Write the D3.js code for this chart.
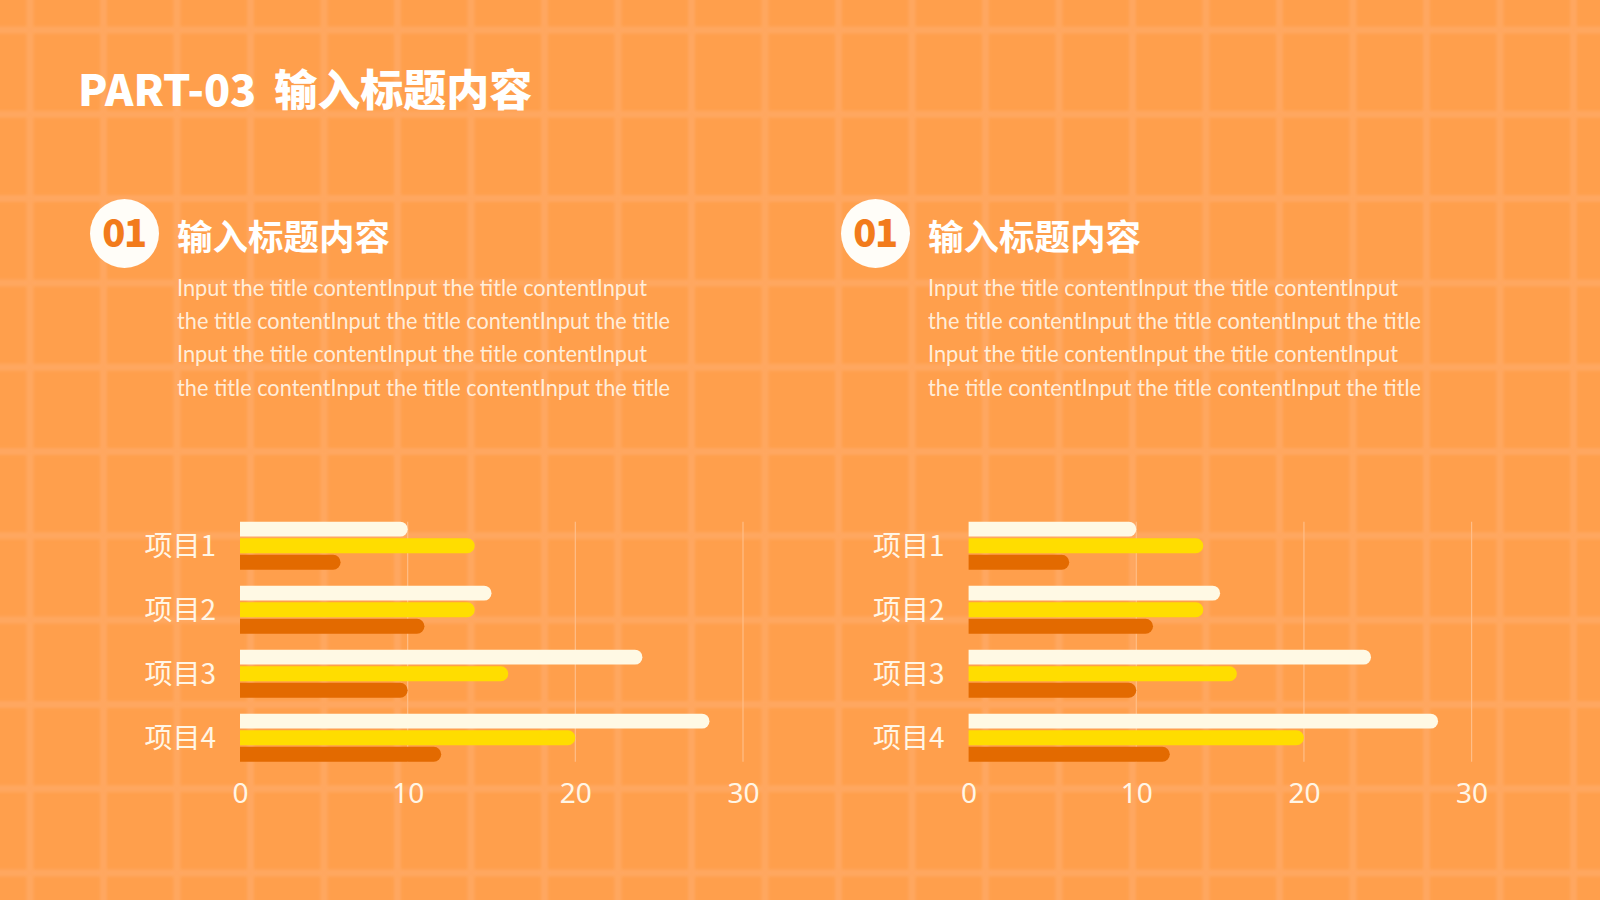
<!DOCTYPE html>
<html><head><meta charset="utf-8">
<script src="https://cdn.jsdelivr.net/npm/d3@7"></script>
<style>html,body{margin:0;padding:0;background:#FF9F4C;overflow:hidden}</style>
</head><body>
<svg id="c" width="1600" height="900"></svg>
<script>
// ---- data ----
const categories = ["项目1", "项目2", "项目3", "项目4"];
const seriesNames = ["系列1", "系列2", "系列3"];
const series1 = [10, 15, 24, 28];
const series2 = [14, 14, 16, 20];
const series3 = [6, 11, 10, 12];
const xTicks = [0, 10, 20, 30];
const pageTitle = "PART-03 输入标题内容";
const panelNumber = "01";
const panelTitle = "输入标题内容";
const paragraphLines = [
  "Input the title contentInput the title contentInput",
  "the title contentInput the title contentInput the title",
  "Input the title contentInput the title contentInput",
  "the title contentInput the title contentInput the title"
];

const colors = ["#FFF9E4", "#FFDD00", "#E36A00"];
const svg = d3.select("#c");
const W = 1600, H = 900;

const defs = svg.append("defs");
defs.append("filter").attr("id", "soft").attr("x", "-5%").attr("y", "-5%").attr("width", "110%").attr("height", "110%")
  .append("feGaussianBlur").attr("stdDeviation", 1.8);

// background
svg.append("rect").attr("width", W).attr("height", H).attr("fill", "#FF9F4C");
const bg = svg.append("g").attr("stroke", "#FFA760").attr("stroke-width", 7).attr("filter", "url(#soft)");
d3.range(30, W, 73.5).forEach(x => bg.append("line").attr("x1", x).attr("x2", x).attr("y1", -10).attr("y2", H + 10));
d3.range(30, H, 84.3).forEach(y => bg.append("line").attr("x1", -10).attr("x2", W + 10).attr("y1", y).attr("y2", y));

// page title
const titleParts = pageTitle.split(" ");
const tt = svg.append("text").attr("x", 78).attr("y", 106)
  .attr("font-family", "'Noto Sans CJK SC'").attr("font-weight", 900).attr("font-size", 43)
  .attr("fill", "#FFFFFF");
tt.append("tspan").text(titleParts[0]);
tt.append("tspan").attr("dx", 18).text(titleParts[1]);

const table = categories.map((c, i) => ({cat: c, values: [series1[i], series2[i], series3[i]]}));

function panel(textDx, chartDx) {
  const g = svg.append("g");
  // header
  g.append("circle").attr("cx", 124.5 + textDx).attr("cy", 233.5).attr("r", 34.5).attr("fill", "#FFFDF8");
  g.append("text").attr("x", 124 + textDx).attr("y", 247).attr("text-anchor", "middle")
    .attr("font-family", "'Noto Sans CJK SC'").attr("font-weight", 900).attr("font-size", 38)
    .attr("letter-spacing", -1.5).attr("fill", "#F27B1C").text(panelNumber);
  g.append("text").attr("x", 177 + textDx).attr("y", 249.5)
    .attr("font-family", "'Noto Sans CJK SC'").attr("font-weight", 700).attr("font-size", 35.5)
    .attr("fill", "#FFFFFF").text(panelTitle);
  g.selectAll("text.p").data(paragraphLines).join("text").attr("class", "p")
    .attr("x", 177 + textDx).attr("y", (d, i) => 295.5 + i * 33.4)
    .attr("font-family", "Lato, 'Noto Sans'").attr("font-size", 23)
    .attr("fill", "#FFF3E3").attr("fill-opacity", 0.95)
    .text(d => d)
    .each(function(d, i) { this.setAttribute("textLength", i % 2 === 0 ? 470 : 493); this.setAttribute("lengthAdjust", "spacingAndGlyphs"); });

  // chart
  const x = d3.scaleLinear().domain([0, 30]).range([240 + chartDx, 743 + chartDx]);
  const y = d3.scaleBand().domain(categories).range([513.7, 769.7]).paddingInner(0.249).paddingOuter(0.1245);
  const yi = d3.scaleBand().domain(d3.range(3)).range([0, y.bandwidth()]).paddingInner(0.1).paddingOuter(0);

  const grid = g.append("g");
  grid.selectAll("line").data(xTicks.filter(t => t > 0)).join("line")
    .attr("x1", d => x(d)).attr("x2", d => x(d))
    .attr("y1", y.range()[0] + y.step() * y.paddingOuter())
    .attr("y2", y.range()[1] - y.step() * y.paddingOuter())
    .attr("stroke", "#FFBE88").attr("stroke-width", 1.2);

  const h = yi.bandwidth(), r = h / 2;
  const barPath = (x0, x1, yTop) => {
    const w = Math.max(x1 - x0, r);
    return `M${x0},${yTop}H${x0 + w - r}A${r},${r} 0 0 1 ${x0 + w - r},${yTop + h}H${x0}Z`;
  };
  const groups = g.selectAll("g.grp").data(table).join("g").attr("class", "grp")
    .attr("transform", d => `translate(0,${y(d.cat)})`);
  groups.selectAll("path").data(d => d.values).join("path")
    .attr("d", (v, i) => barPath(x(0), x(v), yi(i)))
    .attr("fill", (v, i) => colors[i]);

  // category labels
  g.selectAll("text.cat").data(categories).join("text").attr("class", "cat")
    .attr("x", 216 + chartDx).attr("y", d => y(d) + y.bandwidth() / 2)
    .attr("dy", "0.36em").attr("text-anchor", "end")
    .attr("font-family", "'Noto Sans CJK SC'").attr("font-size", 28)
    .attr("fill", "#FFF6E6").text(d => d);

  // x axis
  const ax = g.append("g").attr("transform", `translate(0,${776})`)
    .call(d3.axisBottom(x).tickValues(xTicks).tickSize(0).tickPadding(0));
  ax.select(".domain").remove();
  ax.selectAll("text").attr("font-family", "'Noto Sans'").attr("font-size", 28)
    .attr("fill", "#FFF6E6").attr("dy", "0.95em");
}

panel(0, 0);
panel(751, 728.6);
</script>
</body></html>
